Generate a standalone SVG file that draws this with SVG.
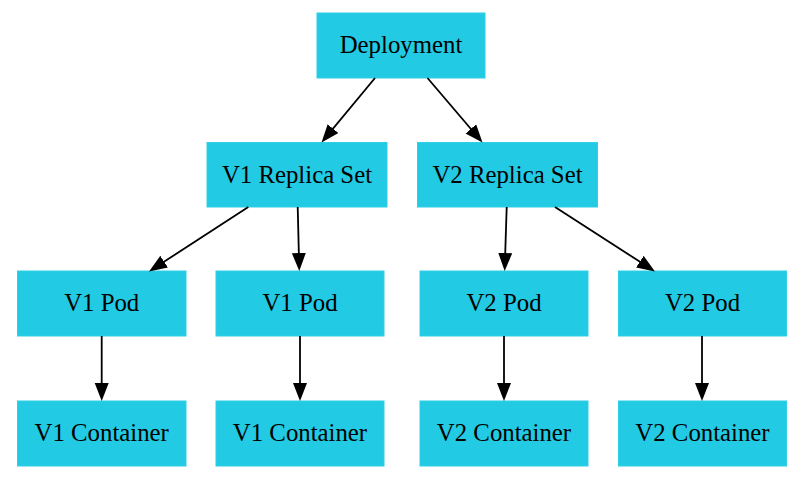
<svg xmlns="http://www.w3.org/2000/svg" width="796" height="479" viewBox="0 0 796 479">
<style>
.node rect{fill:#22cae3;stroke:#2fd0e6;stroke-width:1}
.node text{font-family:"Liberation Serif","Times New Roman",serif;font-size:24.8px;fill:#000;text-anchor:middle}
.edges path{fill:none;stroke:#000;stroke-width:1.8}
</style>
<defs>
<marker id="arr" markerUnits="userSpaceOnUse" markerWidth="20" markerHeight="15" refX="14" refY="7" orient="auto">
<path d="M0,0 L18,7 L0,14 z" fill="#000"/>
</marker>
</defs>
<rect width="796" height="479" fill="#fff"/>
<g id="deployment" class="node"><rect x="317" y="13" width="168" height="65"/><text x="401" y="53">Deployment</text></g>
<g id="v1rs" class="node"><rect x="207" y="142.5" width="180" height="64.5"/><text x="297" y="182.5">V1 Replica Set</text></g>
<g id="v2rs" class="node"><rect x="417.5" y="142.5" width="180" height="64.5"/><text x="507.5" y="182.5">V2 Replica Set</text></g>
<g id="v1pod1" class="node"><rect x="17.5" y="271" width="168.5" height="65"/><text x="101.7" y="311">V1 Pod</text></g>
<g id="v1pod2" class="node"><rect x="216" y="271" width="168" height="65"/><text x="300" y="311">V1 Pod</text></g>
<g id="v2pod1" class="node"><rect x="420" y="271" width="168" height="65"/><text x="504" y="311">V2 Pod</text></g>
<g id="v2pod2" class="node"><rect x="618.5" y="271" width="168" height="65"/><text x="702.5" y="311">V2 Pod</text></g>
<g id="v1c1" class="node"><rect x="17.5" y="401" width="168.5" height="65"/><text x="101.7" y="441">V1 Container</text></g>
<g id="v1c2" class="node"><rect x="216" y="401" width="168" height="65"/><text x="300" y="441">V1 Container</text></g>
<g id="v2c1" class="node"><rect x="420" y="401" width="168" height="65"/><text x="504" y="441">V2 Container</text></g>
<g id="v2c2" class="node"><rect x="618.5" y="401" width="168" height="65"/><text x="702.5" y="441">V2 Container</text></g>
<g id="edges" class="edges">
<path d="M375,78 L324.1,139.4" marker-end="url(#arr)"/>
<path d="M427.5,78 L479.9,139.5" marker-end="url(#arr)"/>
<path d="M248.3,207 L152.4,269.3" marker-end="url(#arr)"/>
<path d="M297.7,207 L299.2,267" marker-end="url(#arr)"/>
<path d="M506.7,207 L504.8,267" marker-end="url(#arr)"/>
<path d="M555,207 L651.6,269.3" marker-end="url(#arr)"/>
<path d="M101.7,336 L101.7,397" marker-end="url(#arr)"/>
<path d="M300,336 L300,397" marker-end="url(#arr)"/>
<path d="M504,336 L504,397" marker-end="url(#arr)"/>
<path d="M702,336 L702,397" marker-end="url(#arr)"/>
</g>
</svg>
